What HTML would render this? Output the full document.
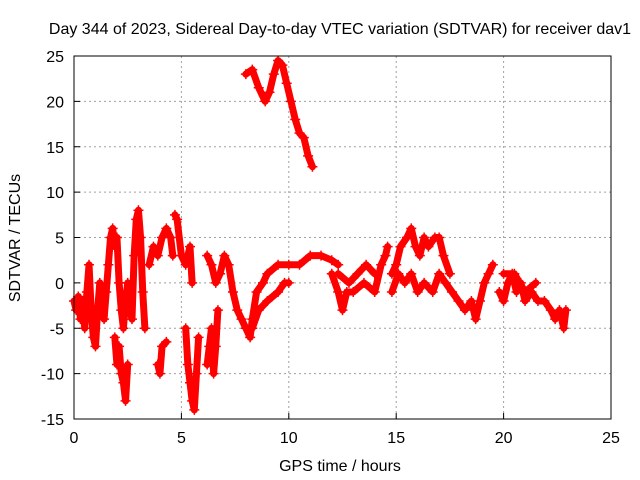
<!DOCTYPE html>
<html><head><meta charset="utf-8"><style>
body{margin:0;background:#fff;}
svg{display:block;font-family:"Liberation Sans",sans-serif;}
</style></head><body>
<svg id="chart" width="640" height="480">
<rect x="0" y="0" width="640" height="480" fill="#fff"/>
<g id="grid"></g><g id="marks"></g><g id="axes"></g>
<text x="340" y="34" text-anchor="middle" font-size="16">Day 344 of 2023, Sidereal Day-to-day VTEC variation (SDTVAR) for receiver dav1</text>
<text x="340" y="471" text-anchor="middle" font-size="16">GPS time / hours</text>
<text transform="translate(20,238) rotate(-90)" text-anchor="middle" font-size="16">SDTVAR / TECUs</text>
</svg>
<script>
const xTicks=[0,5,10,15,20,25];
const yTicks=[-15,-10,-5,0,5,10,15,20,25];
const traceHours=[
[0.0,0.1,0.2,0.3,0.4,0.5,0.6,0.7,0.8,0.9,1.0,1.1,1.2,1.3,1.4,1.5,1.6,1.7,1.8,1.9,2.0,2.1,2.2,2.3,2.4,2.5,2.6,2.7,2.8,2.9,3.0,3.1,3.2,3.3],
[1.9,2.0,2.1,2.2,2.3,2.4,2.5],
[3.5,3.7,3.9,4.1,4.3,4.5,4.6],
[4.7,4.8,5.0,5.2,5.4,5.5],
[3.9,4.0,4.1,4.3],
[5.2,5.3,5.4,5.5,5.6,5.7,5.8],
[6.2,6.3,6.4,6.5,6.6,6.7],
[6.2,6.4,6.6,6.8,7.0,7.2,7.4,7.6,7.8,8.0,8.2,8.3,8.5,8.8,9.0,9.5,10.0,10.5,11.0,11.5,12.0,12.3],
[8.3,8.6,9.0,9.5,9.8,10.0],
[12.0,12.3,12.5,12.7,13.0,13.5,14.0,14.3,14.5,14.6],
[12.3,12.8,13.2,13.6,14.0],
[14.8,15.0,15.2,15.5,15.7,15.9,16.1,16.3,16.5,16.8,17.0,17.2,17.5],
[14.8,15.1,15.4,15.7,16.0,16.3,16.7,17.0,17.3,17.6,17.9,18.2,18.5,18.7,18.9,19.1,19.3,19.5],
[19.8,20.0,20.2,20.4,20.6,20.8,21.0,21.3,21.6,21.9,22.2,22.4,22.6,22.8,22.9],
[20.0,20.5,21.0,21.5],
[8.0,8.3,8.6,8.9,9.1,9.3,9.5,9.7,9.9,10.1,10.3,10.5,10.7,10.9,11.1]
];
const traceValues=[
[-2,-3,-1.5,-4,-2,-5,-1,2,-3,-6,-7,-3,0,-2,-4,-1,2,5,6,4,5,0,-3,-5,-2,0,-3,-4,3,7,8,5,-1,-5],
[-6,-9,-7,-10,-11,-13,-9],
[2,4,3,5,6,5,3],
[7.5,7,3,2,4,0],
[-9,-10,-7,-6.5],
[-5,-9,-11,-13,-14,-10,-6],
[-9,-7,-5,-10,-7,-3],
[3,2,0,1,3,2,-1,-3,-4,-5,-6,-4,-1,0,1,2,2,2,3,3,2.5,2],
[-5,-3,-2,-1,0,0],
[1,-1,-3,-1,-1,0,-1,2,3,4],
[1,0,1,2,1],
[1,2,4,5,6,4,3,5,4,5,5,3,1],
[-1,1,0,1,-1,0,-1,1,0,-1,-2,-3,-2,-4,-2,0,1,2],
[-1,-2,0,1,-1,0,-2,-1,-2,-2,-3,-4,-3,-5,-3],
[1,1,-1,0],
[23,23.5,21.5,20,21,23,24.5,24,22,20,18,16.5,16,14,12.8]
];
const L=74,R=611,T=56,B=419,xMin=0,xMax=25,yMin=-15,yMax=25;
const xs=v=>L+(v-xMin)/(xMax-xMin)*(R-L);
const ys=v=>B-(v-yMin)/(yMax-yMin)*(B-T);
const NS="http://www.w3.org/2000/svg";
function mk(tag,attrs,parent){const e=document.createElementNS(NS,tag);for(const k in attrs)e.setAttribute(k,attrs[k]);parent.appendChild(e);return e;}
const grid=document.getElementById('grid'),axes=document.getElementById('axes'),marks=document.getElementById('marks');
xTicks.forEach(t=>{
 const x=xs(t);
 if(t>xMin&&t<xMax){const g=mk('line',{x1:x,x2:x,y1:T,y2:B,stroke:'#a0a0a0','stroke-dasharray':'2,3','stroke-width':1},grid);
 
 }
 const tk=mk('line',{x1:x,x2:x,y1:B,y2:B-6,stroke:'#000'},axes);
 
 
 const lb=mk('text',{x:x,y:B+24,'text-anchor':'middle','font-size':16},axes);
 lb.textContent=t;
 
 
});
yTicks.forEach(t=>{
 const y=ys(t);
 if(t>yMin&&t<yMax){const g=mk('line',{x1:L,x2:R,y1:y,y2:y,stroke:'#a0a0a0','stroke-dasharray':'2,3','stroke-width':1},grid);
 
 }
 const tk=mk('line',{x1:L,x2:L+6,y1:y,y2:y,stroke:'#000'},axes);
 
 
 const lb=mk('text',{x:L-10,y:y+6,'text-anchor':'end','font-size':16},axes);
 lb.textContent=t;
 
 
});
const frame=mk('rect',{x:L,y:T,width:R-L,height:B-T,fill:'none',stroke:'#000'},axes);


traceHours.forEach((hs,i)=>{
 const vs=traceValues[i];
 const pts=hs.map((h,j)=>xs(h)+','+ys(vs[j])).join(' ');
 const pl=mk('polyline',{points:pts,fill:'none',stroke:'#ff0000','stroke-width':7,'stroke-linejoin':'round','stroke-linecap':'round'},marks);
 
 
 hs.forEach((h,j)=>{
  const x=xs(h),y=ys(vs[j]);
  const p=mk('path',{d:`M${x-5},${y}H${x+5}M${x},${y-5}V${y+5}`,stroke:'#ff0000','stroke-width':1.5},marks);
  
  
 });
});
</script>
</body></html>
